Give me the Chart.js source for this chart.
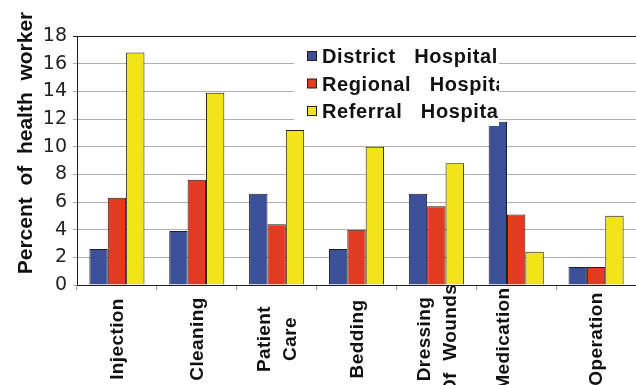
<!DOCTYPE html>
<html>
<head>
<meta charset="utf-8">
<script src="https://cdn.jsdelivr.net/npm/chart.js@4/dist/chart.umd.min.js"></script>
<style>
  html, body { margin: 0; padding: 0; background: #ffffff; }
  #wrap { width: 636px; height: 385px; }
</style>
</head>
<body>
<div id="wrap"><canvas id="chart" width="636" height="385"></canvas></div>
<script>
// Task categories (multi-line labels are arrays)
const categories = [
  'Injection',
  'Cleaning',
  ['Patient', 'Care'],
  'Bedding',
  ['Dressing', 'Of  Wounds'],
  ['Medication', ''],
  'Operation'
];

// Series names
const seriesNames = ['District   Hospital', 'Regional   Hospital', 'Referral   Hospital'];

// Percent of health workers per task
const districtValues = [2.6, 3.9, 6.6, 2.6, 6.6, 11.8, 1.3];
const regionalValues = [6.3, 7.6, 4.4, 4.0, 5.7, 5.1, 1.3];
const referralValues = [16.8, 13.9, 11.2, 10.0, 8.8, 2.4, 5.0];

// Y axis ticks
const yTicks = [0, 2, 4, 6, 8, 10, 12, 14, 16, 18];
const yTitle = 'Percent  of  health  worker';

const seriesColors = ['#3c4f99', '#e33a22', '#f2e416'];
const edgeColor = '#1e1e1e';

const boldFont = '"Liberation Sans", Arial, Helvetica, sans-serif';

// Legend drawn as a white panel inside the plot area, clipped on its right side
const legendPanel = {
  id: 'legendPanel',
  afterDatasetsDraw(chart) {
    const ctx = chart.ctx;
    const box = { x: 294, y: 37, w: 205, h: 89 };
    ctx.save();
    ctx.fillStyle = '#ffffff';
    ctx.fillRect(box.x, box.y, box.w, box.h);
    ctx.beginPath();
    ctx.rect(box.x, box.y, box.w, box.h);
    ctx.clip();
    chart.data.datasets.forEach((ds, i) => {
      const cy = 56 + i * 27.5;
      ctx.fillStyle = ds.backgroundColor;
      ctx.fillRect(307.5, cy - 4.5, 9, 9);
      ctx.strokeStyle = edgeColor;
      ctx.lineWidth = 1;
      ctx.strokeRect(307.5, cy - 4.5, 9, 9);
      ctx.fillStyle = '#111111';
      ctx.font = 'bold 20px ' + boldFont;
      ctx.letterSpacing = '0.6px';
      ctx.textAlign = 'left';
      ctx.textBaseline = 'alphabetic';
      ctx.fillText(ds.label, 322, cy + 7);
    });
    ctx.restore();
  }
};

// Rotated category labels and the y axis title
const axisText = {
  id: 'axisText',
  afterDraw(chart) {
    const ctx = chart.ctx;
    const xs = chart.scales.x;
    ctx.save();
    ctx.fillStyle = '#111111';
    ctx.font = 'bold 19px ' + boldFont;
    ctx.letterSpacing = '0.4px';
    ctx.textAlign = 'center';
    ctx.textBaseline = 'middle';
    const lineH = 26;
    categories.forEach((lab, i) => {
      const lines = Array.isArray(lab) ? lab : [lab];
      const cx = xs.getPixelForTick(i);
      ctx.save();
      ctx.translate(cx, 339);
      ctx.rotate(-Math.PI / 2);
      lines.forEach((ln, j) => {
        const off = (j - (lines.length - 1) / 2) * lineH + 1;
        ctx.fillText(ln, 0, off);
      });
      ctx.restore();
    });
    // y axis title
    ctx.font = 'bold 21px ' + boldFont;
    ctx.letterSpacing = '0px';
    ctx.textBaseline = 'alphabetic';
    ctx.translate(32, 143);
    ctx.rotate(-Math.PI / 2);
    ctx.fillText(yTitle, 0, 0);
    ctx.restore();
  }
};

const datasets = [districtValues, regionalValues, referralValues].map((vals, i) => ({
  label: seriesNames[i],
  data: vals,
  backgroundColor: seriesColors[i],
  borderColor: edgeColor,
  borderWidth: 1,
  borderSkipped: 'bottom',
  categoryPercentage: 0.69,
  barPercentage: 1.0
}));

new Chart(document.getElementById('chart'), {
  type: 'bar',
  data: {
    labels: categories.map(c => Array.isArray(c) ? c.join(' ') : c),
    datasets
  },
  options: {
    responsive: false,
    devicePixelRatio: 1,
    animation: false,
    layout: { padding: { top: 36, right: 0, bottom: 0, left: 0 } },
    plugins: {
      legend: { display: false },
      tooltip: { enabled: false },
      title: { display: false }
    },
    scales: {
      x: {
        offset: true,
        grid: {
          offset: true,
          drawOnChartArea: false,
          drawTicks: true,
          tickLength: 5,
          color: '#9a9a9a'
        },
        border: { display: true, color: edgeColor, width: 1 },
        ticks: { display: false },
        afterFit(scale) { scale.height = 100; }
      },
      y: {
        min: 0,
        max: 18,
        afterBuildTicks(scale) {
          scale.ticks = yTicks.map(v => ({ value: v }));
        },
        grid: {
          color: ctx => (ctx.tick && ctx.tick.value === 18 ? '#1e1e1e' : '#b0b0b0'),
          lineWidth: 1,
          tickLength: 4
        },
        border: { display: true, color: edgeColor, width: 1 },
        ticks: {
          color: '#222222',
          padding: 6,
          font: { family: '"DejaVu Sans", Verdana, sans-serif', size: 19 }
        },
        afterFit(scale) { scale.width = 77; }
      }
    }
  },
  plugins: [legendPanel, axisText]
});
</script>
</body>
</html>
